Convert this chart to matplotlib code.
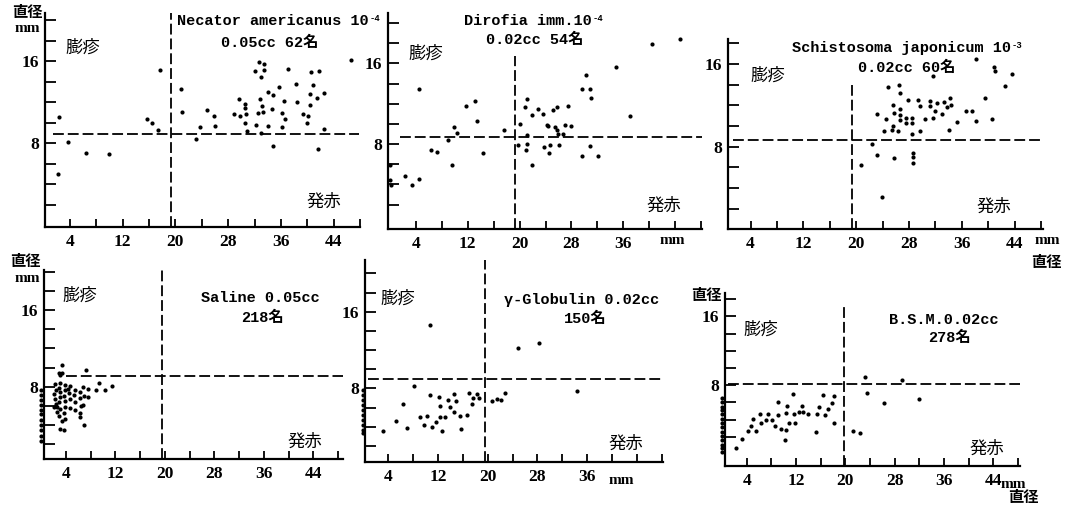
import numpy as np
import matplotlib
matplotlib.use("Agg")
import matplotlib.pyplot as plt

# ---------------- data (mm) ----------------
# Panel 1: Necator americanus
p1_x = [2.4, 3.7, 2.2, 6.5, 9.9, 15.7, 16.4, 17.4, 17.6, 20.9, 21.0, 23.2, 23.8, 24.8, 25.9,
        26.0, 28.9, 29.6, 29.8, 30.5, 30.5, 30.7, 30.6, 30.9, 32.1, 32.7, 33.4, 33.5, 33.0, 32.8,
        33.2, 32.5, 33.3, 32.2, 33.0, 34.1, 34.8, 34.7, 34.1, 34.8, 35.7, 36.5, 36.1, 36.7, 36.1,
        37.1, 38.3, 38.5, 39.3, 40.1, 39.9, 40.5, 40.9, 40.4, 40.4, 41.5, 41.8, 42.6, 42.5, 41.6, 46.6]
p1_y = [10.5, 8.1, 5.0, 7.0, 6.9, 10.3, 10.0, 9.3, 15.1, 13.3, 11.0, 8.4, 9.6, 11.2, 10.6,
        9.7, 10.8, 12.3, 10.6, 11.8, 11.4, 10.8, 10.0, 9.2, 15.0, 15.9, 15.7, 15.1, 14.4, 12.3,
        11.6, 10.9, 11.0, 9.8, 9.0, 13.0, 12.7, 11.3, 9.7, 7.7, 13.5, 12.1, 10.9, 10.3, 9.6,
        15.2, 13.8, 12.0, 10.8, 10.6, 10.0, 14.9, 13.7, 12.8, 11.7, 12.4, 15.0, 12.9, 9.4, 7.4, 16.1]

# Panel 2: Dirofia imm.
p2_x = [0.0, 0.0, 0.1, 4.4, 2.3, 3.4, 4.4, 6.4, 7.3, 8.9, 9.5, 9.9, 10.3, 11.8, 13.1,
        13.4, 14.3, 17.6, 20.1, 19.8, 21.0, 21.2, 21.2, 21.2, 20.9, 21.9, 21.9, 22.9, 23.6, 23.8,
        24.2, 24.4, 24.5, 24.7, 25.1, 25.5, 25.8, 25.8, 26.0, 26.1, 26.7, 27.0, 27.4, 27.9, 29.7,
        29.7, 30.8, 30.8, 31.0, 30.3, 32.1, 34.9, 37.1, 40.5, 44.8]
p2_y = [5.9, 4.4, 3.9, 13.5, 4.8, 3.9, 4.5, 7.4, 7.2, 8.4, 5.9, 9.7, 9.1, 11.8, 12.3,
        10.3, 7.1, 9.4, 10.0, 7.9, 7.4, 8.0, 8.9, 12.5, 11.7, 5.9, 10.9, 11.5, 11.0, 7.7,
        9.9, 9.8, 7.1, 7.9, 11.4, 9.7, 11.7, 9.4, 9.0, 7.9, 9.0, 9.9, 11.8, 9.8, 6.8,
        13.5, 13.5, 7.8, 12.6, 14.9, 6.8, 15.6, 10.8, 17.9, 18.4]

# Panel 3: Schistosoma japonicum
p3_x = [20.7, 22.4, 23.2, 23.9, 23.2, 24.2, 24.5, 24.8, 25.4, 25.5, 25.6, 25.7, 25.8, 26.4, 26.5,
        26.6, 26.6, 26.7, 26.6, 27.5, 27.6, 27.8, 28.5, 28.5, 28.5, 28.6, 28.6, 28.6, 29.4, 29.7,
        29.7, 30.4, 31.2, 31.2, 31.7, 31.9, 32.3, 33.0, 33.3, 33.7, 34.2, 34.3, 34.1, 35.2, 36.6,
        37.5, 38.1, 38.2, 39.5, 40.5, 40.9, 41.0, 42.5, 43.6, 31.7]
p3_y = [6.2, 8.3, 7.2, 3.1, 11.2, 9.5, 10.7, 13.8, 9.6, 10.0, 12.0, 6.9, 11.3, 9.5, 14.0,
        13.2, 11.6, 11.1, 10.6, 10.8, 10.3, 12.5, 10.3, 10.8, 9.2, 7.4, 7.0, 6.4, 12.5, 11.9,
        9.5, 10.7, 12.4, 11.9, 10.8, 11.5, 12.2, 11.2, 12.3, 11.8, 12.7, 12.0, 9.6, 10.4, 11.5,
        11.5, 16.5, 10.5, 12.7, 10.7, 15.7, 15.3, 13.9, 15.0, 14.8]

# Panel 4: Saline
p4_x = [0, 0, 0, 0, 0, 0, 0, 0, 0, 0, 0,
        2.2, 2.3, 2.1, 2.2, 2.4,
        3.0, 2.9, 3.1, 3.0, 2.9, 3.1,
        3.8, 3.9, 3.7, 3.8, 3.9, 3.7, 3.8,
        4.6, 4.5, 4.7, 4.6,
        5.4, 5.3, 5.5, 5.4,
        6.3, 6.2, 6.4, 6.3, 6.2,
        6.8, 6.9, 6.8,
        7.6, 7.5,
        3.3, 2.8, 3.0, 3.3, 7.2, 6.9, 2.0, 2.5, 2.5, 2.8, 3.3, 3.6, 3.0, 9.3, 8.8, 10.3, 11.4, 4.4]
p4_y = [7.7, 7.1, 6.6, 6.1, 5.6, 5.1, 4.5, 4.0, 3.5, 2.8, 2.3,
        8.3, 7.7, 7.2, 6.7, 6.2,
        8.4, 7.9, 7.4, 6.9, 6.4, 5.7,
        8.2, 7.6, 7.0, 6.5, 5.9, 5.2, 4.6,
        8.1, 7.3, 6.7, 5.8,
        7.7, 7.1, 6.4, 5.6,
        7.4, 6.8, 6.0, 5.3, 4.8,
        8.0, 7.0, 6.1,
        7.8, 6.9,
        10.3, 9.4, 9.2, 9.4, 9.7, 4.0, 5.9, 5.9, 5.4, 4.9, 4.4, 3.5, 3.6, 8.4, 7.7, 7.7, 8.1, 7.8]

# Panel 5: gamma-Globulin
p5_x = [0, 0, 0, 0, 0, 0, 0, 0, 0, 0,
        3.2, 5.2, 6.4, 7.1, 8.1, 9.1, 9.7, 10.3, 10.8, 11.1, 11.7, 12.1, 12.3, 12.3, 12.7,
        13.2, 13.6, 13.9, 14.6, 14.9, 14.6, 15.5, 15.7, 16.6, 17.0, 17.4, 17.6, 18.2, 18.6,
        10.8, 20.7, 21.5, 22.2, 22.8, 24.9, 28.3, 34.3]
p5_y = [7.8, 7.3, 6.8, 6.3, 5.7, 5.2, 4.7, 4.2, 3.7, 3.3,
        3.6, 4.6, 6.4, 3.9, 8.2, 5.0, 4.2, 5.1, 7.3, 4.0, 4.5, 7.1, 6.2, 5.0, 3.5,
        5.0, 6.8, 6.1, 7.4, 6.7, 5.5, 5.1, 3.8, 5.2, 7.5, 6.4, 7.0, 7.4, 7.0,
        14.6, 6.7, 6.9, 6.8, 7.5, 12.2, 12.7, 7.7]

# Panel 6: B.S.M.
p6_x = [0, 0, 0, 0, 0, 0, 0, 0, 0, 0, 0, 0, 0, 0,
        2.3, 3.3, 4.2, 4.7, 5.1, 5.5, 6.2, 6.3, 7.1, 7.5, 8.1, 8.6, 9.1, 9.1, 9.5,
        10.2, 10.4, 10.5, 10.4, 10.8, 11.5, 11.6, 11.8, 12.4, 12.9, 13.1, 14.0, 15.2, 15.4, 15.7,
        16.3, 16.7, 17.2, 17.9, 18.1, 18.1, 21.2, 22.3, 23.1, 23.5, 26.3, 29.1, 31.9]
p6_y = [6.5, 6.0, 5.5, 5.1, 4.6, 4.1, 3.6, 3.1, 2.6, 2.1, 1.6, 1.1, 0.7, 0.2,
        0.7, 1.8, 2.7, 3.3, 4.1, 2.7, 4.7, 3.6, 4.0, 4.7, 3.9, 3.2, 6.0, 4.5, 2.9,
        1.6, 2.8, 5.6, 4.8, 3.6, 7.0, 4.7, 3.6, 4.9, 5.6, 4.9, 4.7, 2.6, 4.7, 5.5,
        6.9, 4.5, 5.2, 5.9, 6.8, 3.6, 2.7, 2.5, 9.0, 7.1, 5.9, 8.6, 6.4]

title_line1 = ["Necator americanus 10", "Dirofia imm.10", "Schistosoma japonicum 10",
               "Saline 0.05cc", "γ-Globulin 0.02cc", "B.S.M.0.02cc"]
title_sup = ["-4", "-4", "-3", "", "", ""]
title_line2 = ["0.05cc 62名", "0.02cc 54名", "0.02cc 60名", "218名", "150名", "278名"]
h_thresh = [8.9, 8.7, 8.6, 9.1, 9.0, 8.1]        # horizontal dashed line (mm)
h_start = [1.5, 1.5, 1.3, 4.0, 0.8, 1.0]
v_thresh = [19.3, 19.3, 19.4, 19.6, 19.6, 19.8]  # vertical dashed line (mm)
v_top = [21.5, 16.7, 14.0, 21.0, 21.5, 17.3]
ylab_vals = [8, 16]
xlab_vals = [4, 12, 20, 28, 36, 44]
xlab_show = [xlab_vals, xlab_vals[:-1], xlab_vals, xlab_vals, xlab_vals[:-1], xlab_vals]

# ---------------- layout (pixels) ----------------
W, H = 1072, 512
layout = [
    dict(x0=43.5, sx=6.625, left=45, right=360, y0=225, sy=10.25, bottom=227, top=13),
    dict(x0=390, sx=6.48, left=387.7, right=701.7, y0=224.7, sy=10.08, bottom=228.7, top=13.3),
    dict(x0=724.2, sx=6.6, left=727.7, right=1043.3, y0=229.3, sy=10.33, bottom=228.7, top=39.3),
    dict(x0=41.3, sx=6.18, left=44, right=343.3, y0=463.3, sy=9.58, bottom=459.3, top=270),
    dict(x0=363.3, sx=6.22, left=365, right=663.3, y0=465, sy=9.58, bottom=461.7, top=260),
    dict(x0=722, sx=6.17, left=725, right=1020, y0=454, sy=8.6, bottom=466, top=292.7),
]
line1_pos = [(177, 21, 'left'), (528, 21, 'center'), (901, 48, 'center'),
             (260, 298, 'center'), (582, 300, 'center'), (944, 320, 'center')]
line2_pos = [(270, 43), (535, 40), (907, 68), (262, 318), (585, 319), (949, 338)]
wheal_pos = [(83, 48), (426, 54), (768, 76), (80, 296), (398, 299), (761, 330)]
flare_pos = [(324, 202), (664, 206), (994, 207), (305, 442), (626, 444), (987, 449)]

tick_font = dict(family='Liberation Serif', weight='bold', size=12.5)
title_fam = ['Liberation Mono', 'DejaVu Sans Mono', 'Noto Sans CJK JP']
jp_fam = ['Noto Sans CJK JP', 'DejaVu Sans']

fig = plt.figure(figsize=(W / 100, H / 100), dpi=100)
fig.patch.set_facecolor('white')
overlay = fig.add_axes([0, 0, 1, 1])
overlay.set_axis_off()
overlay.set_xlim(0, W)
overlay.set_ylim(H, 0)

data = [(p1_x, p1_y), (p2_x, p2_y), (p3_x, p3_y), (p4_x, p4_y), (p5_x, p5_y), (p6_x, p6_y)]
dash = (0, (6, 2.2))

for i, L in enumerate(layout):
    ax = fig.add_axes([L['left'] / W, 1 - L['bottom'] / H,
                       (L['right'] - L['left']) / W, (L['bottom'] - L['top']) / H])
    ax.set_facecolor('none')
    xmin = (L['left'] - L['x0']) / L['sx']
    xmax = (L['right'] - L['x0']) / L['sx']
    ymin = (L['y0'] - L['bottom']) / L['sy']
    ymax = (L['y0'] - L['top']) / L['sy']
    ax.set_xlim(xmin, xmax)
    ax.set_ylim(ymin, ymax)
    for s in ['top', 'right']:
        ax.spines[s].set_visible(False)
    for s in ['left', 'bottom']:
        ax.spines[s].set_linewidth(1.6)
    xs, ys = data[i]
    ax.plot(xs, ys, 'o', ms=3.0, color='black', mec='none', clip_on=False, zorder=3)
    ax.hlines(h_thresh[i], h_start[i], xmax, colors='black', linestyles=dash, lw=1.3)
    ax.vlines(v_thresh[i], ymin, min(v_top[i], ymax), colors='black', linestyles=dash, lw=1.3)

    yt = np.arange(2, ymax + 0.3, 2)
    ax.set_yticks(yt, [str(int(v)) if int(v) in ylab_vals else '' for v in yt])
    xt = np.arange(4, xmax + 0.5, 4)
    ax.set_xticks(xt, [str(int(v)) if int(v) in xlab_show[i] else '' for v in xt])
    ax.tick_params(axis='y', direction='in', length=8, width=1.3, pad=4)
    ax.tick_params(axis='x', direction='in', length=6, width=1.3, pad=5)
    for lab in ax.get_xticklabels() + ax.get_yticklabels():
        lab.set_fontfamily(tick_font['family'])
        lab.set_fontweight(tick_font['weight'])
        lab.set_fontsize(tick_font['size'])

    tx, ty, ha = line1_pos[i]
    t1 = overlay.text(tx, ty, title_line1[i], ha=ha, va='center', family=title_fam,
                      weight='bold', fontsize=11)
    if title_sup[i]:
        overlay.annotate(title_sup[i], xy=(1, 1.0), xycoords=t1, ha='left', va='top',
                         family=title_fam, weight='bold', fontsize=6.5,
                         xytext=(0.5, 0), textcoords='offset points')
    lx, ly = line2_pos[i]
    overlay.text(lx, ly, title_line2[i], ha='center', va='center', family=title_fam,
                 weight='bold', fontsize=11)
    wx, wy = wheal_pos[i]
    overlay.text(wx, wy, "膨疹", ha='center', va='center', family=jp_fam, fontsize=12.5)
    fx, fy = flare_pos[i]
    overlay.text(fx, fy, "発赤", ha='center', va='center', family=jp_fam, fontsize=12.5)

# axis unit labels
unit_fam = ['Liberation Serif', 'Noto Sans CJK JP']
for (x, y, s) in [(27, 13, "直径"), (27, 29, "mm"), (25, 262, "直径"), (27, 278, "mm"),
                  (706, 296, "直径"), (672, 240, "mm"), (1047, 241, "mm"), (1046, 263, "直径"),
                  (621, 480, "mm"), (1013, 484, "mm"), (1023, 498, "直径")]:
    overlay.text(x, y, s, ha='center', va='center', weight='bold', family=unit_fam, fontsize=11)

fig.savefig("out.png", dpi=100, facecolor='white')
